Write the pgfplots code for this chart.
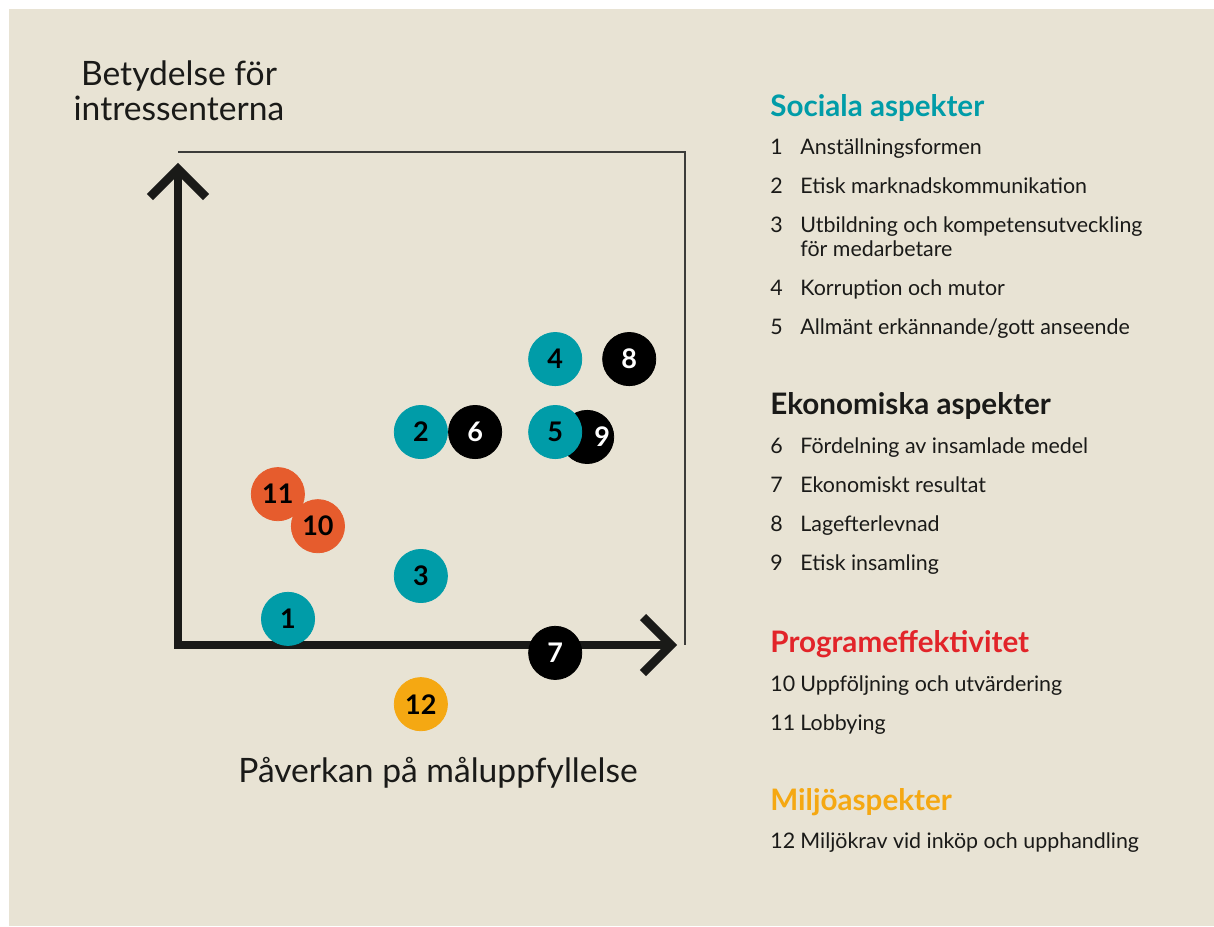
\documentclass[border=0pt]{standalone}
\usepackage{fontspec}
\setmainfont{Lato}
\usepackage{pgfplots}
\pgfplotsset{compat=1.18}
\definecolor{bg}{RGB}{232,227,212}
\definecolor{ink}{RGB}{26,26,24}
\definecolor{boxcol}{RGB}{60,60,58}
\definecolor{tealc}{RGB}{0,156,168}
\definecolor{orangec}{RGB}{230,92,45}
\definecolor{yellowc}{RGB}{245,168,18}
\definecolor{redh}{RGB}{226,36,41}

% positions in the 0--10 box spanned by the two arrows
\pgfplotstableread{
x y lab
2.17 0.53 1
4.79 4.32 2
4.79 1.40 3
7.44 5.80 4
7.44 4.32 5
}\social
\pgfplotstableread{
x y lab
5.86 4.32 6
7.44 -0.16 7
8.90 5.80 8
}\econ
\pgfplotstableread{
x y lab
8.07 4.22 9
}\econnine
\pgfplotstableread{
x y lab
1.97 3.06 11
2.76 2.41 10
}\prog
\pgfplotstableread{
x y lab
4.79 -1.20 12
}\miljo

\newcommand\itemfont{\fontsize{10.7}{12}\selectfont}
\newcommand\headfont{\fontsize{14.8}{16}\selectfont\bfseries}

\begin{document}
\begin{tikzpicture}
\begin{scope}[x=0.5pt,y=-0.5pt]
  \fill[white] (0,0) rectangle (1214,926);
  \fill[bg] (9,9) rectangle (1214,926);
  \draw[line width=0.75pt, boxcol] (178,152) -- (685,152) -- (685,645);
  \draw[line width=4.3pt, ink, line join=miter] (178,169) -- (178,645) -- (671,645);
  \draw[line width=4.3pt, ink, line join=miter] (150,197) -- (178,169) -- (206,197);
  \draw[line width=4.3pt, ink, line join=miter] (643,617) -- (671,645) -- (643,673);

  \node[anchor=base, align=center, font=\fontsize{16.8}{17.5}\selectfont, text=ink] at (179,120) {Betydelse för\\intressenterna};
  \node[anchor=base, font=\fontsize{16.8}{17.5}\selectfont, text=ink] at (438,782) {Påverkan på måluppfyllelse};

  \begin{scope}[every node/.style={anchor=base west, inner sep=0pt, text=ink, font=\itemfont}]
    \node[text=tealc, font=\headfont] at (770,116) {Sociala aspekter};
    \node at (770,154) {1}; \node at (800,154) {Anställningsformen};
    \node at (770,193) {2}; \node at (800,193) {Etisk marknadskommunikation};
    \node at (770,232) {3}; \node at (800,232) {Utbildning och kompetensutveckling};
    \node at (800,256) {för medarbetare};
    \node at (770,295) {4}; \node at (800,295) {Korruption och mutor};
    \node at (770,334) {5}; \node at (800,334) {Allmänt erkännande/gott anseende};

    \node[font=\headfont] at (770,414) {Ekonomiska aspekter};
    \node at (770,453) {6}; \node at (800,453) {Fördelning av insamlade medel};
    \node at (770,492) {7}; \node at (800,492) {Ekonomiskt resultat};
    \node at (770,531) {8}; \node at (800,531) {Lagefterlevnad};
    \node at (770,570) {9}; \node at (800,570) {Etisk insamling};

    \node[text=redh, font=\headfont] at (770,652) {Programeffektivitet};
    \node at (770,691) {10}; \node at (800,691) {Uppföljning och utvärdering};
    \node at (770,730) {11}; \node at (800,730) {Lobbying};

    \node[text=yellowc, font=\headfont] at (770,810) {Miljöaspekter};
    \node at (770,848) {12}; \node at (800,848) {Miljökrav vid inköp och upphandling};
  \end{scope}
\end{scope}

\begin{axis}[
    at={(89pt,-322.5pt)}, anchor=south west,
    scale only axis, width=253.5pt, height=246.5pt,
    xmin=0, xmax=10, ymin=0, ymax=10,
    hide axis, clip=false,
    only marks, mark=*, mark size=13.3pt,
    nodes near coords, point meta=explicit symbolic,
    every node near coord/.append style={anchor=center, inner sep=0pt,
      font=\fontsize{13.5}{13.5}\selectfont\bfseries},
  ]
  \addplot[color=black, every node near coord/.append style={xshift=7.5pt, text=white}]
    table[meta=lab] {\econnine};
  \addplot[color=black, every node near coord/.append style={text=white}]
    table[meta=lab] {\econ};
  \addplot[color=tealc, every node near coord/.append style={text=black}]
    table[meta=lab] {\social};
  \addplot[color=orangec, every node near coord/.append style={text=black}]
    table[meta=lab] {\prog};
  \addplot[color=yellowc, every node near coord/.append style={text=black}]
    table[meta=lab] {\miljo};
\end{axis}
\end{tikzpicture}
\end{document}
